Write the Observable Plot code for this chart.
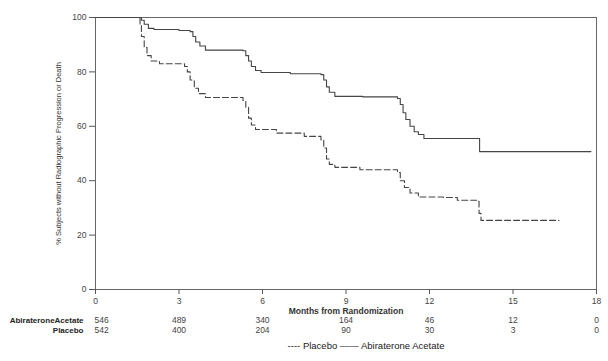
<!DOCTYPE html>
<html><head><meta charset="utf-8">
<script src="https://cdn.jsdelivr.net/npm/d3@7"></script>
<script src="https://cdn.jsdelivr.net/npm/@observablehq/plot@0.6"></script>
<style>body{margin:0;background:#fff;font-family:"Liberation Sans",Arial,sans-serif}</style>
</head><body><div id="chart"></div>
<script>
const abiMonths = [0,1.55,1.65,1.75,1.9,2.1,3.0,3.4,3.5,3.6,3.75,3.95,5.3,5.4,5.5,5.6,5.75,5.95,7.0,8.1,8.2,8.3,8.4,8.6,9.6,10.85,10.95,11.05,11.15,11.3,11.45,11.6,11.8,13.7,13.8,17.8];
const abiSurv   = [100,100,99,97.5,96,95.6,95.2,94.8,93,91,89.5,88,87.8,86,84,82,80.5,79.8,79.3,79,77,74.5,72.5,71,70.8,70.2,68,65,62.5,60,58,57,55.5,55.5,50.7,50.7];
const plaMonths = [0,1.55,1.6,1.65,1.75,1.85,2.0,2.3,3.2,3.3,3.4,3.55,3.7,3.95,5.3,5.4,5.5,5.6,5.75,6.5,7.5,8.1,8.2,8.3,8.4,8.6,9.5,10.85,10.95,11.1,11.3,11.6,12.5,13.0,13.7,13.78,13.85,16.65];
const plaSurv   = [100,100,97,93,89,86,84,83,82,80,77,74,72,70.6,69.5,67,63,60.5,58.8,57.5,56.3,55,52,48,46,44.9,44,43,40,37.5,35.5,34,33.8,32.8,32.4,28,25.4,25.4];
const riskMonths = [0,3,6,9,12,15,18];
const riskAbi = [546,489,340,164,46,12,0];
const riskPla = [542,400,204,90,30,3,0];
const xTicks = [0,3,6,9,12,15,18];
const yTicks = [0,20,40,60,80,100];

const abi = abiMonths.map((m,i)=>({m, s:abiSurv[i]}));
const pla = plaMonths.map((m,i)=>({m, s:plaSurv[i]}));
const risk = riskMonths.map((m,i)=>({m, a:riskAbi[i], p:riskPla[i]}));
const ink = "#444";

const chart = Plot.plot({
  width: 608, height: 361,
  marginLeft: 95, marginRight: 12, marginTop: 17, marginBottom: 72,
  style: {fontFamily: "'Liberation Sans', Arial, sans-serif", background: "#fff"},
  x: {domain: [0,18]},
  y: {domain: [0,100]},
  marks: [
    Plot.frame({stroke: "#666", strokeWidth: 1}),
    Plot.axisX({ticks: xTicks, tickSize: 5, fontSize: 8.5, fill: ink, stroke: "#555", label: null, tickPadding: 3}),
    Plot.axisY({ticks: yTicks, tickSize: 6, fontSize: 8.5, fill: ink, stroke: "#555", label: null, tickPadding: 3}),
    Plot.line(pla, {x: "m", y: "s", curve: "step-after", stroke: "#444", strokeWidth: 1.1, strokeDasharray: "6,3"}),
    Plot.line(abi, {x: "m", y: "s", curve: "step-after", stroke: "#444", strokeWidth: 1.1}),
    Plot.text(["% Subjects without Radiographic Progression or Death"], {frameAnchor: "left", textAnchor: "middle", rotate: -90, dx: -37, fontSize: 7.5, fill: "#333"}),
    Plot.text(["Months from Randomization"], {frameAnchor: "bottom", dy: 24, fontSize: 8.5, fontWeight: "bold", fill: "#333"}),
    Plot.text(["AbirateroneAcetate"], {frameAnchor: "bottom-left", dx: -12, dy: 33.5, textAnchor: "end", fontSize: 8, fontWeight: "bold", fill: "#222"}),
    Plot.text(["Placebo"], {frameAnchor: "bottom-left", dx: -12, dy: 43, textAnchor: "end", fontSize: 8, fontWeight: "bold", fill: "#222"}),
    Plot.text(risk.filter(d=>d.m===0), {x: "m", text: "a", frameAnchor: "bottom", dy: 33.5, dx: -1, textAnchor: "start", fontSize: 8.5, fill: ink}),
    Plot.text(risk.filter(d=>d.m===0), {x: "m", text: "p", frameAnchor: "bottom", dy: 43, dx: -1, textAnchor: "start", fontSize: 8.5, fill: ink}),
    Plot.text(risk.filter(d=>d.m>0), {x: "m", text: "a", frameAnchor: "bottom", dy: 33.5, fontSize: 8.5, fill: ink}),
    Plot.text(risk.filter(d=>d.m>0), {x: "m", text: "p", frameAnchor: "bottom", dy: 43, fontSize: 8.5, fill: ink}),
    Plot.text(["---- Placebo —— Abiraterone Acetate"], {frameAnchor: "bottom", dx: 20, dy: 59, fontSize: 9.5, fill: "#222"})
  ]
});
document.getElementById("chart").appendChild(chart);
</script></body></html>
